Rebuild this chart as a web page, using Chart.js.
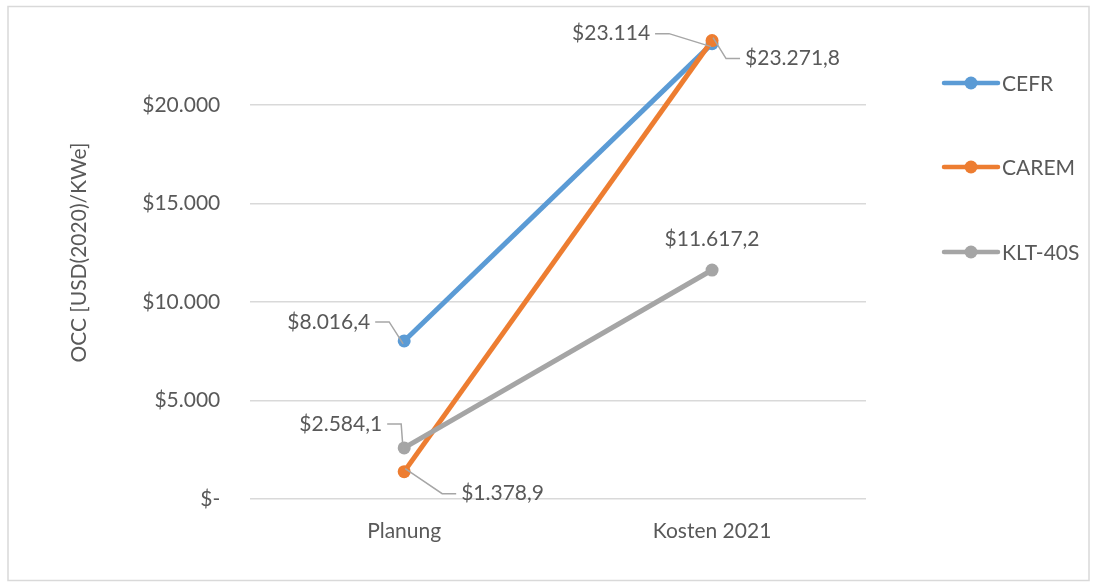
<!DOCTYPE html>
<html>
<head>
<meta charset="utf-8">
<script src="https://cdn.jsdelivr.net/npm/chart.js@4/dist/chart.umd.min.js"></script>
<style>
  html, body { margin: 0; padding: 0; background: #fff; }
  #wrap { width: 1096px; height: 582px; position: relative; }
</style>
</head>
<body>
<div id="wrap"><canvas id="occChart" width="1096" height="582"></canvas></div>
<script>
// ── data ──────────────────────────────────────────────────────────────────
const categories = ["Planung", "Kosten 2021"];
const seriesNames = ["CEFR", "CAREM", "KLT-40S"];
const cefrValues = [8016.4, 23114];
const caremValues = [1378.9, 23271.8];
const kltValues = [2584.1, 11617.2];
const yTicks = [0, 5000, 10000, 15000, 20000];

const colors = ["#5B9BD5", "#ED7D31", "#A5A5A5"];
const FONT = "Lato, 'Open Sans', sans-serif";
const FONT_SIZE = 21;
const TEXT = "#595959";

// label placement relative to its point: [dx, dy, align, leader]
const labelPlacement = [
  [[-34, -19, "right", true], [-62, -10, "right", true]],
  [[57, 22, "left", true], [33, 18, "left", true]],
  [[-22, -24, "right", true], [0, -31, "center", false]],
];

// ── formatting ────────────────────────────────────────────────────────────
function fmtTick(v) {
  if (v === 0) return "$-";
  return "$" + v.toLocaleString("de-DE", { maximumFractionDigits: 0 });
}

function fmtValue(v) {
  const decimals = Number.isInteger(v) ? 0 : 1;
  return "$" + v.toLocaleString("de-DE", {
    minimumFractionDigits: decimals,
    maximumFractionDigits: decimals,
  });
}

// ── plugins ───────────────────────────────────────────────────────────────
const frame = {
  id: "frame",
  beforeDraw(chart) {
    const c = chart.ctx;
    c.save();
    c.strokeStyle = "#d9d9d9";
    c.lineWidth = 1.5;
    c.strokeRect(8, 6.5, 1081, 574);
    c.restore();
  },
};

const dataLabels = {
  id: "dataLabels",
  afterDatasetsDraw(chart) {
    const c = chart.ctx;
    c.save();
    c.font = FONT_SIZE + "px " + FONT;
    c.textBaseline = "middle";
    chart.data.datasets.forEach((ds, di) => {
      const meta = chart.getDatasetMeta(di);
      meta.data.forEach((pt, i) => {
        const [dx, dy, align, leader] = labelPlacement[di][i];
        const lx = pt.x + dx;
        const ly = pt.y + dy;
        if (leader) {
          const dir = align === "right" ? 1 : -1;
          const x0 = lx + dir * 5;
          const x1 = x0 + dir * 14;
          c.strokeStyle = "#a6a6a6";
          c.lineWidth = 1.5;
          c.beginPath();
          c.moveTo(x0, ly);
          c.lineTo(x1, ly);
          c.lineTo(pt.x - dir * 1, pt.y - 3 * Math.sign(dy));
          c.stroke();
        }
        c.fillStyle = TEXT;
        c.textAlign = align;
        c.fillText(fmtValue(ds.data[i]), lx, ly);
      });
    });
    c.restore();
  },
};

const sideLegend = {
  id: "sideLegend",
  afterDraw(chart) {
    const c = chart.ctx;
    const rows = [83, 167, 252];
    c.save();
    c.font = FONT_SIZE + "px " + FONT;
    c.textBaseline = "middle";
    c.textAlign = "left";
    chart.data.datasets.forEach((ds, i) => {
      const y = rows[i];
      c.strokeStyle = ds.borderColor;
      c.lineWidth = 4.5;
      c.lineCap = "round";
      c.beginPath();
      c.moveTo(944, y);
      c.lineTo(998, y);
      c.stroke();
      c.fillStyle = ds.borderColor;
      c.beginPath();
      c.arc(971, y, 6.5, 0, Math.PI * 2);
      c.fill();
      c.fillStyle = TEXT;
      c.fillText(ds.label, 1002, y + 1);
    });
    c.restore();
  },
};

// ── chart ─────────────────────────────────────────────────────────────────
const seriesValues = [cefrValues, caremValues, kltValues];

new Chart(document.getElementById("occChart"), {
  type: "line",
  data: {
    labels: categories,
    datasets: seriesNames.map((name, i) => ({
      label: name,
      data: seriesValues[i],
      borderColor: colors[i],
      backgroundColor: colors[i],
      borderWidth: 5,
      pointRadius: 6.5,
      pointHoverRadius: 6.5,
      pointBorderWidth: 0,
      tension: 0,
      order: 2 - i,
    })),
  },
  options: {
    responsive: false,
    animation: false,
    events: [],
    layout: { padding: { left: 49, right: 230, top: 6, bottom: 18 } },
    plugins: {
      legend: { display: false },
      tooltip: { enabled: false },
    },
    scales: {
      x: {
        offset: true,
        grid: { display: false, drawTicks: false },
        border: { display: false },
        ticks: { color: TEXT, font: { family: FONT, size: FONT_SIZE }, padding: 20 },
      },
      y: {
        min: 0,
        max: 25000,
        afterBuildTicks(scale) {
          scale.ticks = yTicks.map((v) => ({ value: v }));
        },
        afterFit(scale) {
          // no top/bottom label overhang: the plot runs up to the frame
          scale.paddingTop = 0;
          scale.paddingBottom = 0;
        },
        grid: { color: "#d9d9d9", lineWidth: 1.5, drawTicks: false },
        border: { display: false },
        ticks: {
          color: TEXT,
          font: { family: FONT, size: FONT_SIZE },
          padding: 30,
          callback: (v) => fmtTick(v),
        },
        title: {
          display: true,
          text: "OCC [USD(2020)/KWe]",
          color: TEXT,
          font: { family: FONT, size: FONT_SIZE },
          padding: { top: 18, bottom: 20 },
        },
      },
    },
  },
  plugins: [frame, dataLabels, sideLegend],
});
</script>
</body>
</html>
